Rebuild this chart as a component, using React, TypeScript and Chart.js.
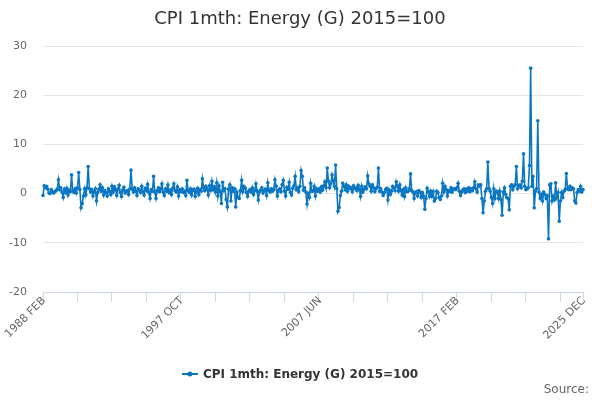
import { useEffect, useRef } from 'react';
import { Chart, registerables } from 'chart.js';

Chart.register(...registerables);

const chartTitle = 'CPI 1mth: Energy (G) 2015=100';
const seriesName = 'CPI 1mth: Energy (G) 2015=100';
const sourceText = 'Source:';
const lineColor = '#0b77c2';

const monthNames = ['JAN', 'FEB', 'MAR', 'APR', 'MAY', 'JUN', 'JUL', 'AUG', 'SEP', 'OCT', 'NOV', 'DEC'];
const firstYear = 1988;
const firstMonth = 1; // FEB

// monthly % change, one row per year
const energy1988to1997 = [
  -0.4, 1.6, 1.2, 1.5, 0.9, 0.1, 0.0, 0.8, 0.3, 0.1, 0.4, // 1988 (from Feb)
  0.6, 0.9, 2.8, 0.8, 1.2, 0.3, -0.8, 0.9, 0.2, 1.1, -0.3, 0.7, // 1989
  0.4, 3.8, 0.6, 0.2, 1.0, 0.1, 1.2, 4.3, 0.8, -2.9, -2.0, -0.5, // 1990
  1.0, -0.3, 1.2, 5.5, 1.0, 0.3, 0.8, -0.5, 0.4, 1.0, -1.5, 0.2, // 1991
  0.9, 1.8, 0.5, 1.2, -0.3, 0.6, 0.2, -0.5, 1.0, 0.4, -0.2, 1.5, // 1992
  0.3, 1.4, 0.8, -0.4, 0.9, 1.7, 0.2, -0.6, 0.7, 1.3, 0.1, 0.5, // 1993
  0.6, -0.2, 1.0, 4.8, 0.9, 0.3, 1.2, 0.5, -0.4, 1.0, 0.7, 0.2, // 1994
  1.5, 0.4, -0.3, 1.1, 0.6, 1.9, 0.2, -1.0, 0.8, 0.5, 3.5, 0.3, // 1995
  -1.0, 0.6, 1.2, 0.4, 0.9, 2.0, 0.3, -0.4, 1.0, 0.5, 1.8, 0.2, // 1996
  0.7, -0.2, 1.1, 2.0, 0.6, 0.3, 1.4, -0.5, 0.8, 0.4, 1.0, 0.2, // 1997
];

const energy1998to2007 = [
  0.5, -0.4, 2.7, 0.6, 0.2, 1.0, -0.3, 0.7, 0.9, -0.6, 0.4, 1.1, // 1998
  -0.2, 0.8, 0.5, 3.0, 1.2, 0.6, 1.5, 0.9, -0.3, 1.6, 0.7, 2.5, // 1999
  0.8, 1.4, 0.3, 2.2, -0.5, 1.6, 0.4, -2.0, 2.3, 0.6, 1.0, -1.2, // 2000
  -2.7, 0.9, 1.8, -1.5, 1.2, 0.5, 1.0, -2.7, 0.3, -0.8, -1.0, 0.6, // 2001
  2.7, 0.4, 1.5, 1.1, 0.2, -0.6, 0.5, 0.8, 0.3, 1.2, -0.2, 0.6, // 2002
  2.0, 0.5, -1.3, 0.4, 0.7, 1.2, 0.1, 0.6, 0.9, -0.4, 2.2, 0.6, // 2003
  0.3, 1.0, 0.5, 0.8, 2.8, 1.5, -0.5, 0.6, 1.0, 0.4, 1.8, 2.7, // 2004
  0.5, -0.5, 1.3, 0.9, 2.3, 0.2, -0.3, 1.1, 1.6, 3.5, 0.8, 1.2, // 2005
  0.4, 1.5, 4.7, 3.5, 0.7, 1.2, 0.3, -2.1, 0.0, -0.8, 2.1, 0.5, // 2006
  0.5, 1.5, -0.5, 1.0, 0.5, 1.0, 0.3, 1.4, 0.7, 1.6, 2.4, 1.2, // 2007
];

const energy2008to2017 = [
  5.2, 2.5, 1.2, 2.0, 3.8, 2.6, 1.5, 5.8, 1.0, -3.6, -2.8, -0.4, // 2008
  0.5, 2.1, 1.5, 0.8, 1.8, 0.5, 1.5, 1.0, 1.2, 0.4, 1.6, 1.0, // 2009
  1.2, 0.6, 1.7, 0.9, -0.6, 1.5, 0.3, 0.9, 1.4, 1.0, 3.6, 2.0, // 2010
  1.5, 0.5, 1.8, 1.2, 0.4, 1.0, 1.3, 5.2, 0.5, 1.0, 0.3, -0.4, // 2011
  0.2, 0.8, 1.1, -1.3, 0.7, -0.2, 0.5, 1.5, 1.2, 0.6, 2.4, 1.5, // 2012
  0.5, 1.8, 0.6, -0.3, 0.8, -0.6, 1.2, 0.4, 0.5, 1.0, 4.0, 0.6, // 2013
  0.3, -1.0, 0.2, 0.4, -0.5, 0.6, 0.3, -0.8, 0.2, -0.5, -3.2, -1.0, // 2014
  1.1, 0.3, -0.6, 0.5, -0.6, 0.4, -1.5, -1.0, 0.5, 0.2, -0.8, -1.2, // 2015
  -0.5, 2.1, 0.3, 1.5, 0.8, -0.5, 0.6, 0.4, 1.2, 0.3, 0.9, 1.0, // 2016
  0.8, 1.2, 2.1, 0.5, -0.4, 0.3, 0.7, 1.0, 0.2, 0.9, 0.5, 1.2, // 2017
];

const energy2018to2025 = [
  0.4, 1.0, 0.6, 1.2, 2.4, 1.0, 0.3, 1.8, 1.5, 1.8, -1.0, -3.9, // 2018
  -1.5, 0.5, 1.0, 6.4, 1.0, 0.5, -0.8, -2.0, 1.0, -1.0, 0.5, 0.3, // 2019
  -1.0, 0.5, -1.2, -4.4, 0.3, 1.2, -0.2, -0.8, -1.0, -3.3, 1.5, 1.8, // 2020
  0.8, 1.5, 1.8, 5.5, 1.0, 1.5, 1.8, 1.2, 2.5, 8.1, 1.5, 0.8, // 2021
  1.0, 1.2, 5.7, 25.5, 1.5, 3.5, -2.9, 0.5, 1.0, 14.8, 0.3, -1.0, // 2022
  -0.2, -1.5, 0.3, -0.2, -1.0, -0.5, -9.2, 1.8, 2.0, -1.5, -0.5, -1.2, // 2023
  2.2, -0.8, 0.2, -5.6, -1.5, 0.2, -0.8, 0.5, 0.8, 4.1, 1.0, 0.8, // 2024
  1.5, 0.8, 1.2, 1.0, -1.5, -1.9, 0.2, 0.8, 0.5, 1.5, 0.3, 0.8, // 2025
];

const values = [...energy1988to1997, ...energy1998to2007, ...energy2008to2017, ...energy2018to2025];

const labels = values.map((_, i) => {
  const m = firstMonth + i;
  return `${firstYear + Math.floor(m / 12)} ${monthNames[m % 12]}`;
});

const yTicks = [-20, -10, 0, 10, 20, 30];
const tickEvery = 29;
const labelEvery = 116;

const fontFamily = '"DejaVu Sans", Verdana, sans-serif';

const isLabelled = (i: number) => i % labelEvery === 0 || i === values.length - 1;

const decorations = {
  id: 'decorations',
  afterDraw(chart: Chart) {
    const ctx = chart.ctx;
    const xScale = chart.scales.x;
    ctx.save();
    // title
    ctx.fillStyle = '#333333';
    ctx.font = `18px ${fontFamily}`;
    ctx.textAlign = 'center';
    ctx.textBaseline = 'middle';
    ctx.fillText(chartTitle, 300, 19);

    // rotated x labels
    ctx.font = `11px ${fontFamily}`;
    ctx.fillStyle = '#666666';
    ctx.textAlign = 'right';
    ctx.textBaseline = 'middle';
    labels.forEach((lab, i) => {
      if (!isLabelled(i)) return;
      const x = xScale.getPixelForValue(i);
      ctx.save();
      ctx.translate(x + 1, xScale.top + 7);
      ctx.rotate(-Math.PI / 4);
      ctx.fillText(lab, 0, 0);
      ctx.restore();
    });

    // legend
    ctx.font = `bold 12px ${fontFamily}`;
    const textW = ctx.measureText(seriesName).width;
    const symW = 16;
    const gap = 5;
    const startX = 300 - (symW + gap + textW) / 2;
    const ly = 374;
    ctx.strokeStyle = lineColor;
    ctx.lineWidth = 2;
    ctx.beginPath();
    ctx.moveTo(startX, ly);
    ctx.lineTo(startX + symW, ly);
    ctx.stroke();
    ctx.fillStyle = lineColor;
    ctx.beginPath();
    ctx.arc(startX + symW / 2, ly, 2.5, 0, Math.PI * 2);
    ctx.fill();
    ctx.fillStyle = '#333333';
    ctx.textAlign = 'left';
    ctx.fillText(seriesName, startX + symW + gap, ly + 0.5);

    // source
    ctx.font = `12px ${fontFamily}`;
    ctx.fillStyle = '#666666';
    ctx.textAlign = 'right';
    ctx.fillText(sourceText, 589, 390);
    ctx.restore();
  },
};

export default function App() {
  const canvasRef = useRef<HTMLCanvasElement>(null);

  useEffect(() => {
    if (!canvasRef.current) return;

    const chart = new Chart(canvasRef.current, {
      type: 'line',
      data: {
        labels,
        datasets: [
          {
            label: seriesName,
            data: values,
            borderColor: lineColor,
            backgroundColor: lineColor,
            borderWidth: 1.6,
            pointRadius: 1.8,
            pointBorderWidth: 0,
            pointBackgroundColor: lineColor,
            tension: 0,
          },
        ],
      },
      options: {
        animation: false,
        responsive: false,
        maintainAspectRatio: false,
        layout: { padding: { top: 46, left: 0, right: 17, bottom: 48 } },
        plugins: {
          legend: { display: false },
          title: { display: false },
          tooltip: { enabled: false },
        },
        scales: {
          x: {
            type: 'category',
            offset: false,
            grid: { drawOnChartArea: false, drawTicks: true, tickLength: 10, color: '#ccd6eb' },
            border: { color: '#ccd6eb', width: 1 },
            afterBuildTicks: (scale: any) => {
              scale.ticks = scale.ticks.filter(
                (t: any) => t.value % tickEvery === 0 || t.value === values.length - 1
              );
            },
            afterFit: (scale: any) => {
              scale.height = 60;
            },
            ticks: {
              display: false,
              autoSkip: false,
              maxRotation: 0,
            },
          },
          y: {
            min: yTicks[0],
            max: yTicks[yTicks.length - 1],
            afterBuildTicks: (scale: any) => {
              scale.ticks = yTicks.map((v) => ({ value: v }));
            },
            afterFit: (scale: any) => {
              scale.width = 43;
            },
            grid: { color: '#e6e6e6', drawTicks: false },
            border: { display: false },
            ticks: {
              padding: 16,
              color: '#666666',
              font: { family: fontFamily, size: 11 },
            },
          },
        },
      },
      plugins: [decorations],
    });

    return () => {
      chart.destroy();
    };
  }, []);

  return (
    <div style={{ position: 'fixed', left: 0, top: 0, width: 600, height: 400, background: '#ffffff' }}>
      <canvas ref={canvasRef} width={600} height={400} style={{ width: 600, height: 400 }} />
    </div>
  );
}
